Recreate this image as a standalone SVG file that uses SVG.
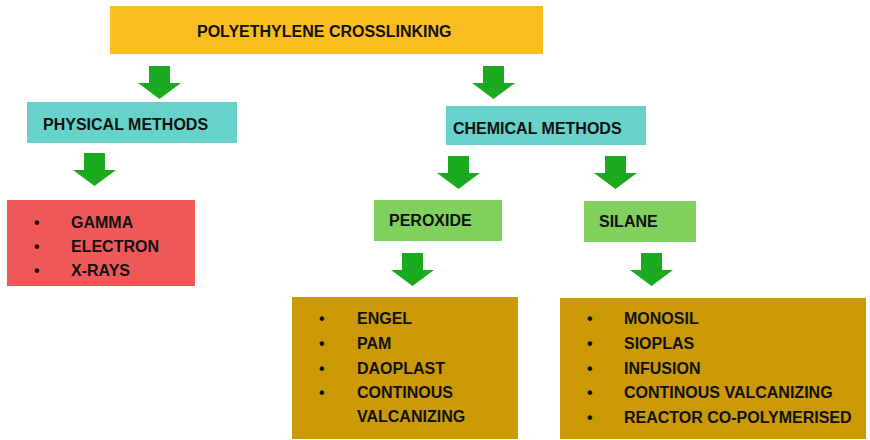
<svg xmlns="http://www.w3.org/2000/svg" width="870" height="440" viewBox="0 0 870 440">
<defs>
<style>
text{font-family:"Liberation Sans",Arial,sans-serif;font-weight:bold;font-size:16px;fill:#111}
.arrow{fill:#1AAA1F}
</style>
<path id="arr" d="M11,0H32V17H43L21.5,33L0,17H11Z"/>
</defs>
<rect width="870" height="440" fill="#fff"/>
<g id="connectors" class="arrow">
<use href="#arr" x="138" y="66"/>
<use href="#arr" x="472" y="66"/>
<use href="#arr" x="73" y="153"/>
<use href="#arr" x="437" y="156"/>
<use href="#arr" x="594" y="156"/>
<use href="#arr" x="391" y="253"/>
<use href="#arr" x="630" y="253"/>
</g>
<g id="root">
<rect x="110" y="6" width="433" height="48" fill="#F8BD1F"/>
<text x="197" y="37">POLYETHYLENE CROSSLINKING</text>
</g>
<g id="physical">
<rect x="27" y="102" width="210" height="41" fill="#67D2CA"/>
<text x="43" y="130">PHYSICAL METHODS</text>
</g>
<g id="chemical">
<rect x="446" y="106" width="200" height="39" fill="#67D2CA"/>
<text x="453" y="134">CHEMICAL METHODS</text>
</g>
<g id="physical-list">
<rect x="7" y="200" width="188" height="86" fill="#F05757"/>
<text x="34" y="228">•</text><text x="71" y="228">GAMMA</text>
<text x="34" y="252">•</text><text x="71" y="252">ELECTRON</text>
<text x="34" y="276">•</text><text x="71" y="276">X-RAYS</text>
</g>
<g id="peroxide">
<rect x="374" y="200" width="128" height="41" fill="#7FD05C"/>
<text x="389" y="226">PEROXIDE</text>
</g>
<g id="silane">
<rect x="584" y="201" width="112" height="41" fill="#7FD05C"/>
<text x="599" y="227">SILANE</text>
</g>
<g id="peroxide-list">
<rect x="292" y="297" width="226" height="142" fill="#CA9904"/>
<text x="319" y="324">•</text><text x="357" y="324">ENGEL</text>
<text x="319" y="349">•</text><text x="357" y="349">PAM</text>
<text x="319" y="374">•</text><text x="357" y="374">DAOPLAST</text>
<text x="319" y="398">•</text><text x="357" y="398">CONTINOUS</text>
<text x="357" y="422">VALCANIZING</text>
</g>
<g id="silane-list">
<rect x="560" y="298" width="306" height="141" fill="#CA9904"/>
<text x="587" y="324">•</text><text x="624" y="324">MONOSIL</text>
<text x="587" y="349">•</text><text x="624" y="349">SIOPLAS</text>
<text x="587" y="374">•</text><text x="624" y="374">INFUSION</text>
<text x="587" y="398">•</text><text x="624" y="398">CONTINOUS VALCANIZING</text>
<text x="587" y="423">•</text><text x="624" y="423">REACTOR CO-POLYMERISED</text>
</g>
</svg>
